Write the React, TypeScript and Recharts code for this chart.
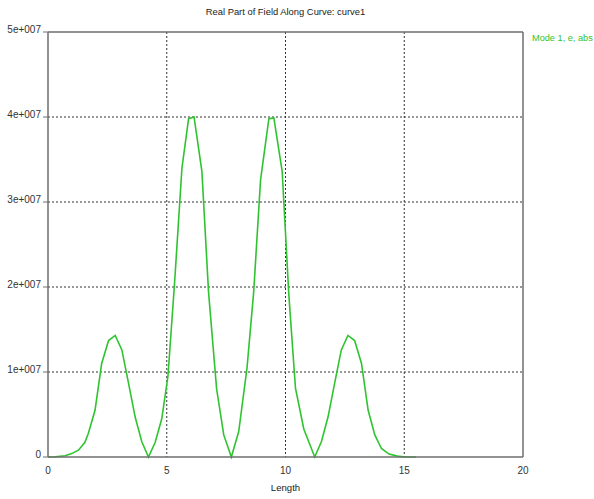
import {
  LineChart,
  Line,
  XAxis,
  YAxis,
  CartesianGrid,
  ReferenceLine,
} from "recharts";

// positions along the curve (Length) and field magnitude
const lengths = [
  0, 0.3, 0.72, 1.0, 1.28, 1.55, 1.7, 1.98, 2.26, 2.55, 2.83, 3.11, 3.39, 3.67,
  3.95, 4.23, 4.51, 4.79, 5.05, 5.33, 5.64, 5.92, 6.15, 6.48, 6.76, 7.1, 7.4,
  7.72, 8.03, 8.38, 8.66, 8.95, 9.3, 9.51, 9.86, 10.14, 10.42, 10.77, 11.23,
  11.51, 11.79, 12.07, 12.35, 12.63, 12.91, 13.2, 13.48, 13.76, 14.04, 14.36,
  14.71, 15.06, 15.49,
];
const fieldAbs = [
  0, 0.003e7, 0.015e7, 0.04e7, 0.08e7, 0.17e7, 0.28e7, 0.55e7, 1.1e7, 1.37e7,
  1.43e7, 1.26e7, 0.87e7, 0.47e7, 0.18e7, 0, 0.17e7, 0.45e7, 0.95e7, 2.05e7,
  3.4e7, 3.98e7, 4.0e7, 3.36e7, 1.94e7, 0.8e7, 0.26e7, 0, 0.3e7, 1.05e7,
  1.94e7, 3.26e7, 3.98e7, 3.99e7, 3.36e7, 1.91e7, 0.81e7, 0.33e7, 0, 0.18e7,
  0.47e7, 0.87e7, 1.26e7, 1.43e7, 1.37e7, 1.1e7, 0.55e7, 0.26e7, 0.1e7,
  0.035e7, 0.01e7, 0, 0,
];
const xTicks = [0, 5, 10, 15, 20];
const yTicks = [0, 1e7, 2e7, 3e7, 4e7, 5e7];
const xGrid = [5, 10, 15];
const yGrid = [1e7, 2e7, 3e7, 4e7];

const title = "Real Part of Field Along Curve: curve1";
const seriesName = "Mode 1, e, abs";

const data = lengths.map((x, i) => ({ x, v: fieldAbs[i] }));

const font = "'Liberation Sans', Arial, sans-serif";
const green = "#2fc42f";
const frame = "#6e6e6e";

const fmtY = (v: number) => (v === 0 ? "0" : `${v / 1e7}e+007`);

export default function App() {
  return (
    <div
      style={{
        position: "absolute",
        left: 0,
        top: 0,
        width: 594,
        height: 499,
        background: "#fff",
        fontFamily: font,
      }}
    >
      <div
        style={{
          position: "absolute",
          top: 6,
          left: 48,
          width: 475,
          textAlign: "center",
          fontSize: 9.4,
          color: "#222",
        }}
      >
        {title}
      </div>
      <div
        style={{
          position: "absolute",
          top: 33,
          left: 532,
          whiteSpace: "nowrap",
          fontSize: 9.2,
          color: green,
        }}
      >
        {seriesName}
      </div>
      <LineChart
        width={594}
        height={499}
        data={data}
        margin={{ top: 32, right: 71, bottom: 14, left: 0 }}
      >
        <CartesianGrid
          stroke="#333"
          strokeDasharray="2 2"
          verticalValues={xGrid}
          horizontalValues={yGrid}
        />
        <ReferenceLine y={5e7} stroke={frame} strokeWidth={1.5} />
        <ReferenceLine x={20} stroke={frame} strokeWidth={1.5} />
        <XAxis
          dataKey="x"
          type="number"
          domain={[0, 20]}
          ticks={xTicks}
          tick={{ fill: "#333", fontSize: 10, fontFamily: font }}
          tickLine={false}
          tickMargin={4}
          axisLine={{ stroke: frame, strokeWidth: 1.5 }}
          height={28}
          label={{
            value: "Length",
            position: "insideBottom",
            offset: -6,
            fill: "#222",
            fontSize: 9.6,
            fontFamily: font,
          }}
        />
        <YAxis
          type="number"
          domain={[0, 5e7]}
          ticks={yTicks}
          tickFormatter={fmtY}
          tick={{ fill: "#333", fontSize: 10, fontFamily: font, dy: -3 }}
          tickLine={{ stroke: frame }}
          tickSize={5}
          tickMargin={2}
          axisLine={{ stroke: frame, strokeWidth: 1.5 }}
          width={48}
        />
        <Line
          type="linear"
          dataKey="v"
          name={seriesName}
          stroke={green}
          strokeWidth={1.6}
          dot={false}
          isAnimationActive={false}
        />
      </LineChart>
    </div>
  );
}
